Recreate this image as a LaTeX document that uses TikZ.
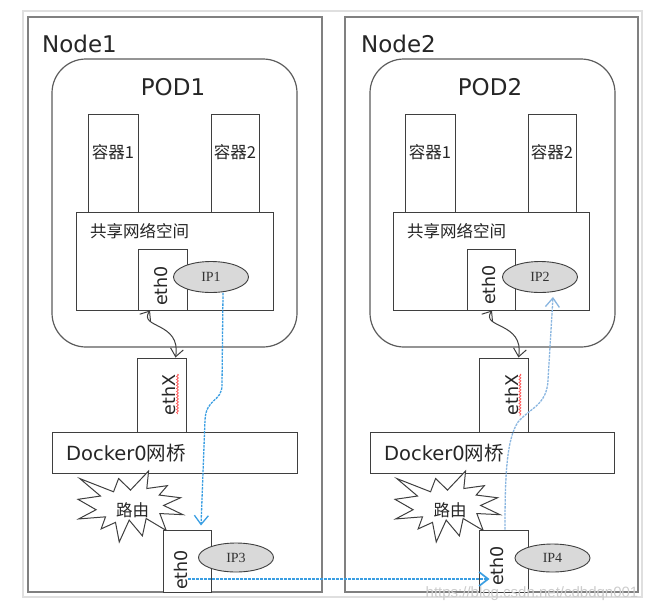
\documentclass[tikz,border=0pt]{standalone}
\usepackage{fontspec}
\setmainfont{DejaVu Sans}
\newfontfamily\cjk{Noto Sans CJK SC}
\newfontfamily\ipf{Liberation Serif}
\newfontfamily\wmf{Liberation Sans}
\usetikzlibrary{fit,calc,arrows.meta,shapes.geometric,decorations.pathmorphing}
\definecolor{frameC}{HTML}{808080}
\definecolor{lineC}{HTML}{3F3F3F}
\definecolor{ipfill}{HTML}{D9D9D9}
\definecolor{flowA}{HTML}{3A9EE2}
\definecolor{flowB}{HTML}{8AB6E0}
\begin{document}
\begin{tikzpicture}[x=1pt,y=-1pt,
  outerframe/.style={draw=gray!25,line width=1.5pt},
  nodeframe/.style={draw=frameC,line width=1.6pt,inner sep=0pt},
  podbox/.style={draw=lineC!85,line width=1.2pt,inner sep=0pt,rounded corners=34pt,fill=white},
  box/.style={draw=lineC,line width=1pt,inner sep=0pt,fill=white},
  bigtext/.style={inner sep=0pt,anchor=base,text=black!85,font=\fontsize{23}{26}\selectfont},
  ctext/.style={inner sep=0pt,anchor=base,text=black!85,font=\cjk\fontsize{16.5}{19}\selectfont},
  dtext/.style={inner sep=0pt,anchor=base west,text=black!85,font=\fontsize{19.5}{22}\selectfont},
  ethtext/.style={inner sep=0pt,anchor=base,rotate=90,text=black!85,font=\fontsize{17.5}{20}\selectfont},
  ip/.style={ellipse,draw=lineC,line width=0.9pt,fill=ipfill,inner sep=0pt,minimum width=75pt,minimum height=31pt,font=\ipf\fontsize{14}{16}\selectfont,text=black!80},
  wavy/.style={draw=lineC,line width=1pt,{Straight Barb[length=8pt,width=13pt]}-{Straight Barb[length=8pt,width=13pt]}},
  flow/.style={line width=1.3pt,dash pattern=on 2.5pt off 1pt,-{Straight Barb[length=9pt,width=14pt]}},
  burst/.style={draw=lineC,line width=1pt,fill=white,line join=miter},
  squig/.style={draw=red!65,line width=0.8pt,decorate,decoration={snake,amplitude=0.9pt,segment length=3pt}}
]
\useasboundingbox (0,0) rectangle (653,611);
\draw[outerframe] (23,11) rectangle (642,597);

% ================= Node1 =================
\node[nodeframe,fit={(28,17)(322,592)}] (n1) {};
\node[bigtext,anchor=base west] (n1t) at (42,52) {Node1};
\node[podbox,fit={(52,59)(297,347)}] (pod1) {};
\node[bigtext] (pod1t) at (173,95) {POD1};
\node[box,fit={(88,114)(138,212)}] (c11) {};
\node[ctext] (c11t) at (113,158) {容器1};
\node[box,fit={(211,114)(259,212)}] (c12) {};
\node[ctext] (c12t) at (235,158) {容器2};
\node[box,fit={(76,212)(273,310)}] (sh1) {};
\node[ctext,anchor=base west] (sh1t) at (90,237) {共享网络空间};
\node[box,fit={(138,249)(187,310)}] (e01) {};
\node[ethtext] (e01t) at (167,286) {eth0};
\node[ip] (ip1) at (211,277) {IP1};
\node[box,fit={(137,358)(186,432)}] (ex1) {};
\node[ethtext] (ex1t) at (175,395) {ethX};
\draw[squig] (177.5,374) -- (177.5,414);
\draw[wavy] ($(e01.south west)!0.25!(e01.south east)$) .. controls +(-12,18) and +(6,-36) .. ($(ex1.north west)!0.78!(ex1.north east)$);
\node[box,fit={(52,432)(297,473)}] (dk1) {};
\node[dtext] (dk1t) at (66,460.5) {Docker0{\cjk 网桥}};
\begin{scope}[shift={(78,471)},xscale=105/216,yscale=71/216]
\draw[burst] (108,58)--(145.22,0)--(141.55,53.25)--(183.80,44.57)--(167.02,73.15)--(210.97,81.37)--(176.07,104.75)--(216,132.90)--(168.37,129.42)--(181.45,180.95)--(140.20,144.57)--(132.47,197.37)--(105.32,149.35)--(84.85,216)--(77.15,156.27)--(47.62,176.17)--(56.67,139.37)--(1.35,145.87)--(37.22,117.75)--(0,86.15)--(46.27,76.17)--(3.70,22.95)--(73.12,63.20)--(83.52,22.95)--cycle;
\end{scope}
\node[ctext] (r1) at (132.5,516) {路由};
\node[box,fit={(163,530)(211,592)}] (eb1) {};
\node[ethtext] (eb1t) at (187,570) {eth0};
\node[ip,minimum height=29pt] (ip3) at (236,557.5) {IP3};

% ================= Node2 =================
\node[nodeframe,fit={(345,17)(638,592)}] (n2) {};
\node[bigtext,anchor=base west] (n2t) at (361,52) {Node2};
\node[podbox,fit={(370,59)(615,347)}] (pod2) {};
\node[bigtext] (pod2t) at (490,95) {POD2};
\node[box,fit={(405,114)(455,212)}] (c21) {};
\node[ctext] (c21t) at (430,158) {容器1};
\node[box,fit={(528,114)(576,212)}] (c22) {};
\node[ctext] (c22t) at (552,158) {容器2};
\node[box,fit={(393,212)(589,310)}] (sh2) {};
\node[ctext,anchor=base west] (sh2t) at (407,237) {共享网络空间};
\node[box,fit={(467,249)(515,310)}] (e02) {};
\node[ethtext] (e02t) at (495,285) {eth0};
\node[ip] (ip2) at (540,277) {IP2};
\node[box,fit={(479,358)(528,432)}] (ex2) {};
\node[ethtext] (ex2t) at (518,395) {ethX};
\draw[squig] (520,374) -- (520,416);
\draw[wavy] ($(e02.south west)!0.52!(e02.south east)$) .. controls +(-12,18) and +(6,-36) .. ($(ex2.north west)!0.8!(ex2.north east)$);
\node[box,fit={(370,432)(614,473)}] (dk2) {};
\node[dtext] (dk2t) at (384,460.5) {Docker0{\cjk 网桥}};
\begin{scope}[shift={(395,471)},xscale=105/216,yscale=71/216]
\draw[burst] (108,58)--(145.22,0)--(141.55,53.25)--(183.80,44.57)--(167.02,73.15)--(210.97,81.37)--(176.07,104.75)--(216,132.90)--(168.37,129.42)--(181.45,180.95)--(140.20,144.57)--(132.47,197.37)--(105.32,149.35)--(84.85,216)--(77.15,156.27)--(47.62,176.17)--(56.67,139.37)--(1.35,145.87)--(37.22,117.75)--(0,86.15)--(46.27,76.17)--(3.70,22.95)--(73.12,63.20)--(83.52,22.95)--cycle;
\end{scope}
\node[ctext] (r2) at (450,516) {路由};
\node[box,fit={(479,530)(528,592)}] (eb2) {};
\node[ethtext] (eb2t) at (503,566) {eth0};
\node[ip,minimum height=28pt] (ip4) at (552.5,558) {IP4};

% ================= flows =================
\draw[flow,draw=flowA] ($(ip1.south)+(12,0)$) -- (222,385) .. controls (222,402) and (206,398) .. (205,420) -- ($(eb1.north)+(14,-4)$);
\draw[flow,draw=flowA,line width=1.7pt,dash pattern=on 3pt off 1pt] ($(eb1.south)+(1,-13.5)$) -- ($(eb2.south west)+(11,-13.5)$);
\draw[flow,draw=flowB] ($(eb2.north)+(1.5,0)$) .. controls (505,480) and (506,440) .. (518,422) .. controls (530,408) and (547,405) .. (548,380) -- ($(ip2.south)+(13,4)$);

% watermark
\node[inner sep=0pt,text=gray!40,font=\wmf\fontsize{15}{17}\selectfont] (wm) at (532,594) {https://blog.csdn.net/cdbdqn001};
\end{tikzpicture}
\end{document}
